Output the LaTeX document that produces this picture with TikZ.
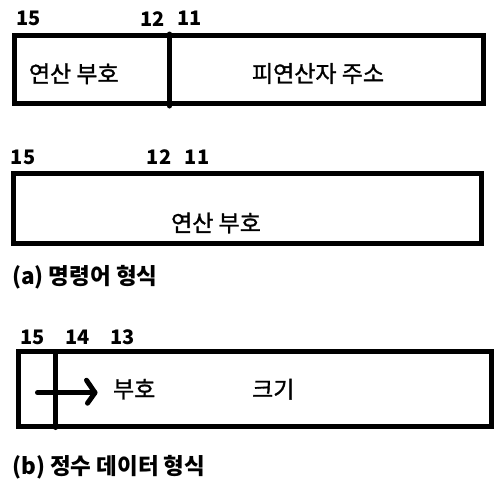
\documentclass[tikz,border=0pt]{standalone}
\usepackage{fontspec}
\setmainfont{Noto Sans CJK KR}
\newfontfamily\labfont{Noto Sans CJK KR}[FakeBold=1.2]
\begin{document}
\begin{tikzpicture}[x=1pt,y=-1pt,
  box/.style={draw=black,line width=5pt,inner sep=0pt,outer sep=0pt},
  bar/.style={draw=black,line width=5pt,line cap=round},
  num/.style={inner sep=0pt,font=\fontsize{20}{22}\selectfont\bfseries},
  lab/.style={inner sep=0pt,font=\fontsize{23}{26}\selectfont\labfont},
  captext/.style={inner sep=0pt,anchor=west,font=\fontsize{22.5}{26}\selectfont\bfseries}]
\useasboundingbox[fill=white] (0,0) rectangle (503,488);
% (a) first format
\node[box,minimum width=469pt,minimum height=67.4pt] (b1) at (248.5,69.5) {};
\coordinate (d1t) at (169.5,34);
\coordinate (d1b) at (169.5,106);
\draw[bar] (d1t) -- (d1b);
\node[num] (n1a) at (28.5,18.7) {15};
\node[num] (n1b) at (152.5,18.7) {12};
\node[num] (n1c) at (189.7,18.7) {11};
\node[lab] (t1a) at (73.8,73.7) {연산 부호};
\node[lab] (t1b) at (318,73.5) {피연산자 주소};
% second format
\node[box,minimum width=467.5pt,minimum height=70pt] (b2) at (247.25,208.5) {};
\node[num] (n2a) at (23,157.5) {15};
\node[num] (n2b) at (159,157.5) {12};
\node[num] (n2c) at (197,157.5) {11};
\node[lab] (t2a) at (216,223) {연산 부호};
\node[captext] (ca) at (12,277.5) {(a) 명령어 형식};
% (b) integer data format
\node[box,minimum width=472.5pt,minimum height=74.2pt] (b3) at (254.75,388.9) {};
\coordinate (d3t) at (55.7,352);
\coordinate (d3b) at (55.7,427.5);
\draw[bar] (d3t) -- (d3b);
\coordinate (as) at (37.5,392.7);
\coordinate (ae) at (95,392.7);
\draw[bar] (as) -- (ae);
\draw[bar,line join=round] ([shift={(-8.5,-12.5)}]ae) -- (ae) -- ([shift={(-7.5,10.5)}]ae);
\node[num] (n3a) at (32.5,337.5) {15};
\node[num] (n3b) at (77.5,337.5) {14};
\node[num] (n3c) at (122.5,337.5) {13};
\node[lab] (t3a) at (134.2,389.2) {부호};
\node[lab] (t3b) at (273.3,389.2) {크기};
\node[captext] (cb) at (12,467.5) {(b) 정수 데이터 형식};
\end{tikzpicture}
\end{document}
